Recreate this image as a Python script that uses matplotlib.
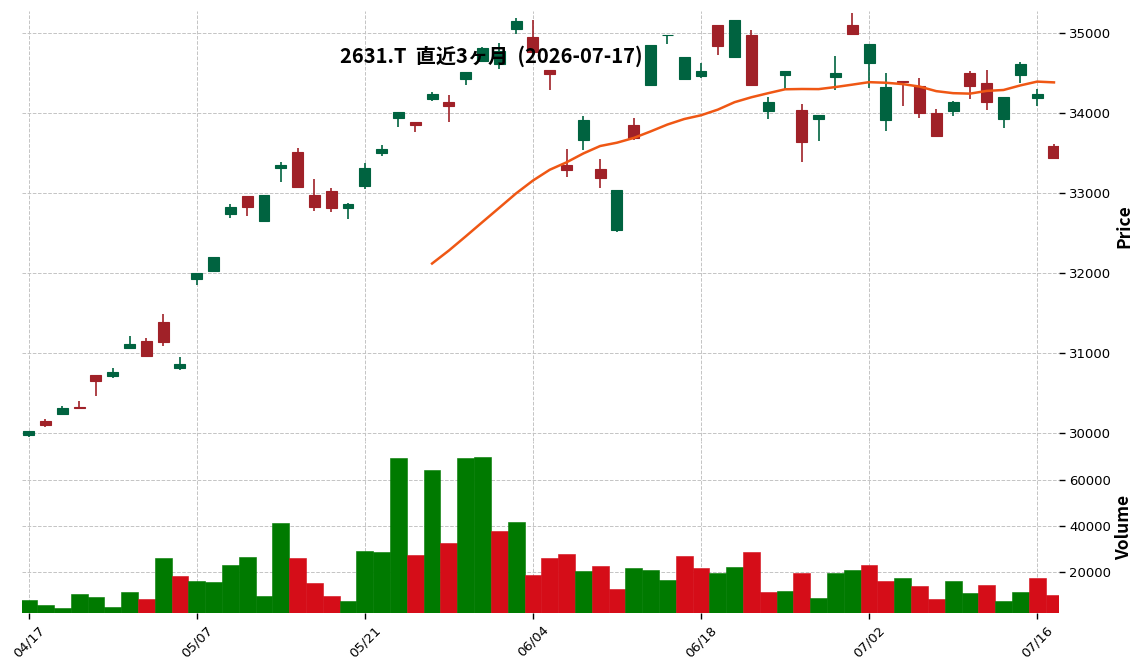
#!/usr/bin/env python3
# -*- coding: utf-8 -*-

"""
Candlestick chart of 2631.T over the last 3 months, with MA25 and volume.
"""

### Import Space ###

import numpy as np
import pandas as pd
import matplotlib
matplotlib.use("Agg")
import matplotlib.pyplot as plt

### Global Var/stat ###

TITLE = "2631.T  直近3ヶ月  (2026-07-17)"
HOLIDAYS = ["2026-04-29", "2026-05-04", "2026-05-05", "2026-05-06"]

opens = [29983, 30154, 30242, 30333, 30729, 30721, 31071, 31154, 31392, 30817,
         31933, 32033, 32746, 32967, 32658, 33321, 33517, 32979, 33029, 32821,
         33096, 33508, 33946, 33892, 34183, 34142, 34433, 34654, 34620, 35054,
         34950, 34542, 33354, 33671, 33304, 32546, 33854, 34354, 34975, 34429,
         34471, 35108, 34708, 34979, 34033, 34483, 34042, 33933, 34458, 35108,
         34633, 33921, 34408, 34342, 34004, 34033, 34504, 34379, 33933, 34483,
         34196, 33592]
highs = [30029, 30175, 30337, 30400, 30729, 30821, 31212, 31187, 31492, 30950,
         32004, 32204, 32862, 32967, 32979, 33387, 33562, 33175, 33062, 32883,
         33379, 33604, 34012, 33892, 34267, 34233, 34517, 34830, 34875, 35187,
         35171, 34542, 33550, 33962, 33425, 33042, 33942, 34858, 34983, 34704,
         34625, 35108, 35167, 35037, 34200, 34529, 34121, 33975, 34712, 35250,
         34871, 34500, 34408, 34437, 34054, 34154, 34529, 34537, 34204, 34642,
         34300, 33612]
lows = [29950, 30083, 30242, 30317, 30471, 30696, 31054, 30954, 31087, 30796,
        31850, 32033, 32687, 32712, 32646, 33137, 33071, 32775, 32762, 32675,
        33054, 33471, 33825, 33763, 34150, 33887, 34350, 34640, 34554, 34992,
        34771, 34292, 33200, 33542, 33067, 32512, 33671, 34337, 34867, 34412,
        34437, 34725, 34708, 34358, 33925, 34292, 33387, 33650, 34296, 34992,
        34312, 33783, 34096, 33946, 33717, 33962, 34175, 34037, 33812, 34383,
        34087, 33446]
closes = [30029, 30104, 30317, 30321, 30658, 30767, 31117, 30967, 31146, 30867,
          32004, 32204, 32829, 32833, 32979, 33354, 33083, 32833, 32821, 32867,
          33317, 33554, 34012, 33858, 34242, 34092, 34517, 34812, 34780, 35150,
          34771, 34492, 33292, 33917, 33192, 33042, 33692, 34858, 34983, 34704,
          34529, 34846, 35167, 34358, 34142, 34529, 33646, 33975, 34504, 34992,
          34871, 34329, 34396, 34004, 33717, 34142, 34346, 34146, 34204, 34617,
          34237, 33446]
volumes = [7400, 5200, 3900, 10000, 8700, 4300, 10900, 7800, 25800, 17900,
           15700, 15300, 22800, 26300, 9100, 41200, 25800, 14900, 9100, 6900,
           28900, 28500, 69800, 27200, 64500, 32400, 69800, 70200, 37700, 41700,
           18400, 25800, 27600, 20100, 22300, 12200, 21500, 20600, 16200, 26700,
           21500, 19300, 21900, 28500, 10900, 11300, 19300, 8300, 19300, 20600,
           22800, 15700, 17100, 13500, 7800, 15700, 10500, 14000, 6900, 10900,
           17100, 9600]

### Running Script Space ###

if __name__ == '__main__':
    plt.rcParams['font.family'] = ['DejaVu Sans']
    cjk = ['Noto Sans CJK JP', 'DejaVu Sans']

    dates = pd.bdate_range("2026-04-17", "2026-07-17")
    dates = dates[~dates.isin(pd.to_datetime(HOLIDAYS))]
    df = pd.DataFrame({"Open": opens, "High": highs, "Low": lows,
                       "Close": closes, "Volume": volumes}, index=dates)
    x = np.arange(len(df))
    mav = df["Close"].rolling(25).mean()

    up = df["Close"] >= df["Open"]
    candle_col = np.where(up, "#006340", "#A02128")
    vol_up = df["Close"] >= df["Close"].shift(1).fillna(df["Close"].iloc[0])
    vol_col = np.where(vol_up, "#007a00", "#d50d18")

    fig = plt.figure(figsize=(11.44, 6.70), dpi=100)
    ax = fig.add_axes([0.0192, 0.3418, 0.9065, 0.6418])
    axv = fig.add_axes([0.0192, 0.0850, 0.9065, 0.2568], sharex=ax)

    # candles
    ax.vlines(x, df["Low"], df["High"], colors=candle_col, linewidth=1.2, zorder=3)
    body_lo = np.minimum(df["Open"], df["Close"])
    body_h = np.abs(df["Close"] - df["Open"])
    ax.bar(x, body_h, bottom=body_lo, width=0.65, color=candle_col,
           edgecolor=candle_col, linewidth=0.8, zorder=4)
    ax.plot(x, mav, color="#ef5714", linewidth=1.8, zorder=5)

    # volume
    axv.bar(x, df["Volume"], width=1.0, color=vol_col, edgecolor=vol_col,
            linewidth=0.4, zorder=3)

    ax.set_xlim(-0.4, 61.3)
    ax.set_ylim(29905, 35280)
    axv.set_ylim(1800, 77300)
    ax.set_yticks(np.arange(30000, 35001, 1000))
    axv.set_yticks([20000, 40000, 60000])

    ticks = x[::10]
    axv.set_xticks(ticks)
    axv.set_xticklabels([d.strftime("%m/%d") for d in df.index[::10]],
                        rotation=45, fontsize=9.5)
    ax.tick_params(axis="x", bottom=False, labelbottom=False)

    for a, lab in ((ax, "Price"), (axv, "Volume")):
        for s in a.spines.values():
            s.set_visible(False)
        a.yaxis.tick_right()
        a.yaxis.set_label_position("right")
        a.set_ylabel(lab, family=cjk, fontsize=12.5, fontweight="bold", labelpad=3)
        a.tick_params(axis="y", labelsize=9.5, length=4, width=1)
        a.grid(True, color="#c4c4c4", linestyle="--", linewidth=0.7)
        a.set_axisbelow(True)
    axv.tick_params(axis="x", length=4, width=1)

    fig.text(491 / 1144, 1 - 56 / 670, TITLE, family=cjk, fontsize=14.5,
             fontweight="bold", ha="center", va="center")

    fig.savefig("out.png", dpi=100)
